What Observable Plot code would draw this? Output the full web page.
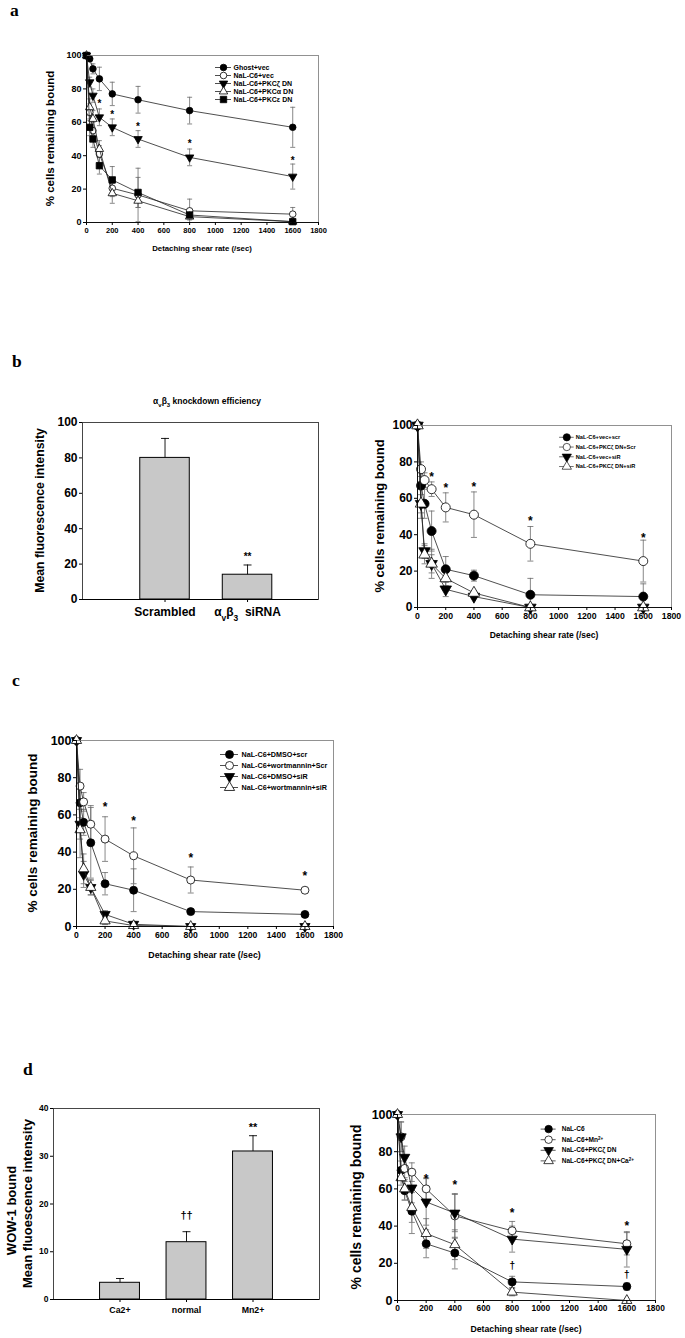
<!DOCTYPE html>
<html>
<head>
<meta charset="utf-8">
<script src="https://cdn.jsdelivr.net/npm/d3@7"></script>
<script src="https://cdn.jsdelivr.net/npm/@observablehq/plot@0.6"></script>
<style>
html,body{margin:0;padding:0;background:#fff;}
#root{position:relative;width:685px;height:1338px;overflow:hidden;background:#fff;}
.pl{position:absolute;}
.pl svg{overflow:visible;}
#ann{position:absolute;left:0;top:0;overflow:visible;}
</style>
</head>
<body>
<div id="root"></div>
<script>
// ---------------- data ----------------
const shear = [0, 25, 50, 100, 200, 400, 800, 1600];
const shearTicks = [0, 200, 400, 600, 800, 1000, 1200, 1400, 1600, 1800];
const pctTicks = [0, 20, 40, 60, 80, 100];
const yTitle = "% cells remaining bound";
const xTitle = "Detaching shear rate (/sec)";

// (a)
const aNames = ["Ghost+vec", "NaL-C6+vec", "NaL-C6+PKCζ DN", "NaL-C6+PKCα DN", "NaL-C6+PKCε DN"];
const aGhost = [100, 98, 92, 86, 77, 73.5, 67, 57];
const aGhostErr = [0, 1.5, 3, 7, 7, 8, 8, 12];
const aVec = [100, 66, 55, 41, 20.5, 16.5, 7, 5];
const aVecErr = [0, 5, 5, 5, 5, 16, 7, 4];
const aZeta = [100, 84, 76, 63, 57, 50, 39, 27.5];
const aZetaErr = [0, 3, 4, 5, 5, 5, 5, 7.5];
const aAlpha = [100, 69, 62, 44, 17.5, 13, 3.5, 0.5];
const aAlphaErr = [0, 5, 5, 5, 6, 4, 2, 1];
const aEps = [100, 57, 50, 34, 25.5, 18, 4.5, 0.5];
const aEpsErr = [0, 5, 5, 5, 8, 9, 2, 1];
const aStarX = [100, 200, 400, 800, 1600];
const aStarY = [73, 66, 59, 49, 39];

// (b) left: knockdown bars
const bTitle = "α_{v}β_{3} knockdown efficiency";
const bCats = ["Scrambled", "α_{v}β_{3}  siRNA"];
const bVals = [80, 14];
const bErrs = [11, 5.5];
const bSig = ["", "**"];
const bSigY = [null, 26];

// (b) right
const bNames = ["NaL-C6+vec+scr", "NaL-C6+PKCζ DN+Scr", "NaL-C6+vec+siR", "NaL-C6+PKCζ DN+siR"];
const bVecScr = [100, 67, 57, 42, 21, 17.5, 7, 6];
const bVecScrErr = [0, 10, 8, 11, 7, 3, 9, 7];
const bDnScr = [100, 76, 70, 65, 55, 51, 35, 25.5];
const bDnScrErr = [0, 4, 4, 4, 8, 12.5, 9.5, 11.5];
const bVecSiR = [100, 57, 31, 24, 10, 6, 0, 0];
const bVecSiRErr = [0, 8, 4, 5, 4, 1, 0, 0];
const bDnSiR = [100, 57, 29, 24, 16, 8, 0, 0];
const bDnSiRErr = [0, 5, 5, 8, 4, 1, 0, 0];
const bStarX = [100, 200, 400, 800, 1600];
const bStarY = [73, 67, 68, 49, 40];

// (c)
const cNames = ["NaL-C6+DMSO+scr", "NaL-C6+wortmannin+Scr", "NaL-C6+DMSO+siR", "NaL-C6+wortmannin+siR"];
const cDmsoScr = [100, 66.5, 56, 45, 23, 19.5, 8, 6.5];
const cDmsoScrErr = [0, 8, 7, 19, 6, 11.5, 1, 1];
const cWortScr = [100, 75.5, 67, 55, 47, 38, 25, 19.5];
const cWortScrErr = [0, 9, 5, 10, 12, 15, 7, 1];
const cDmsoSiR = [100, 55, 28, 21, 6.5, 1.2, 0, 0];
const cDmsoSiRErr = [0, 8, 7, 4, 2, 1, 0, 0];
const cWortSiR = [100, 52, 31, 21, 3, 0.5, 0, 0];
const cWortSiRErr = [0, 15, 8, 4, 2, 0.5, 0, 0];
const cStarX = [200, 400, 800, 1600];
const cStarY = [66, 58, 38.5, 28.7];

// (d) left: WOW-1 bars
const dLeftTitle = ["WOW-1 bound", "Mean fluoescence intensity"];
const dCats = ["Ca2+", "normal", "Mn2+"];
const dVals = [3.5, 12, 31];
const dErrs = [0.9, 2.2, 3.3];
const dSig = ["", "††", "**"];
const dSigY = [null, 18.3, 36.6];

// (d) right
const dNames = ["NaL-C6", "NaL-C6+Mn^{2+}", "NaL-C6+PKCζ DN", "NaL-C6+PKCζ DN+Ca^{2+}"];
const dNaL = [100, 70, 59, 48, 30.5, 25.5, 10, 7.5];
const dNaLErr = [0, 5, 5, 12, 7.5, 8.5, 3, 2];
const dMn = [100, 88, 71, 69, 60, 45.5, 37.5, 30.5];
const dMnErr = [0, 8, 6, 5, 6, 12, 5, 6];
const dZeta = [100, 88, 77, 60.5, 53, 47, 33, 27.5];
const dZetaErr = [0, 8, 6, 8, 12.5, 10, 7, 9.5];
const dZetaCa = [100, 66, 60, 50, 36, 30, 4.5, 0];
const dZetaCaErr = [0, 4, 6, 8, 8, 8, 2, 0];
const dStarX = [200, 400, 800, 1600];
const dStarY = [67, 63.5, 48.5, 41.5];
const dDagX = [800, 1600];
const dDagY = [20, 15];

// ---------------- helpers ----------------
const FONT = '"Liberation Sans", Arial, Helvetica, sans-serif';
const root = document.getElementById("root");
const ST = {
  fc: {symbol: "circle", fill: "black"},
  oc: {symbol: "circle", fill: "white"},
  dt: {symbol: "triangle", fill: "black", rotate: 180, k: 0.95},
  ut: {symbol: "triangle", fill: "white", k: 0.95},
  sq: {symbol: "square", fill: "black", k: 1.1}
};
const capSym = {draw(ctx, size) { const w = Math.sqrt(size / Math.PI); ctx.moveTo(-w, 0); ctx.lineTo(w, 0); }};
function dotOpts(st, r) {
  const o = {symbol: st.symbol, fill: st.fill, stroke: "black", strokeWidth: 0.8, r: r * (st.k || 1)};
  if (st.rotate) o.rotate = st.rotate;
  return o;
}
function place(el, left, top) {
  const d = document.createElement("div");
  d.className = "pl"; d.style.left = left + "px"; d.style.top = top + "px";
  d.appendChild(el); root.appendChild(d);
}
const titles = []; // axis titles, drawn in the overlay at page positions

function linePanel(c) {
  const ml = 60, mt = 12, mr = 14, mb = 40;
  const marks = [];
  c.series.forEach(s => {
    const rows = shear.map((x, i) => ({x, y: s.v[i], e: s.e[i]})).filter(d => d.e > 0);
    const caps = rows.flatMap(d => [{x: d.x, y: Math.max(0, d.y - d.e)}, {x: d.x, y: d.y + d.e}]);
    marks.push(Plot.ruleX(rows, {x: "x", y1: d => Math.max(0, d.y - d.e), y2: d => d.y + d.e, stroke: "#6a6a6a", strokeWidth: 0.8}));
    marks.push(Plot.dot(caps, {x: "x", y: "y", symbol: capSym, r: c.cap, stroke: "#6a6a6a", fill: "none", strokeWidth: 0.8}));
  });
  c.series.forEach(s => {
    const rows = shear.map((x, i) => ({x, y: s.v[i]}));
    marks.push(Plot.line(rows, {x: "x", y: "y", stroke: "#222", strokeWidth: 0.8}));
    marks.push(Plot.dot(rows, {x: "x", y: "y", ...dotOpts(s.st, c.r)}));
  });
  marks.push(Plot.frame({stroke: "#777", strokeWidth: 0.8}));
  marks.push(Plot.ruleY([0], {stroke: "black", strokeWidth: 0.9}));
  marks.push(Plot.ruleX([0], {stroke: "black", strokeWidth: 0.9}));
  (c.notes || []).forEach(n => {
    const rows = n.x.map((x, i) => ({x, y: n.y[i]}));
    marks.push(Plot.text(rows, {x: "x", y: "y", text: () => n.t, fontSize: n.fs, fontWeight: "bold", fill: "black", dy: n.dy || 0}));
  });
  marks.push(Plot.axisY({ticks: pctTicks, tickFormat: d => String(d), tickSize: 3, tickPadding: 2, fontSize: c.yfs, fontWeight: "bold", label: null}));
  marks.push(Plot.axisX({ticks: shearTicks, tickFormat: d => String(d), tickSize: 3, tickPadding: 2, fontSize: c.xfs, fontWeight: "bold", label: null}));
  const svg = Plot.plot({
    width: ml + c.fw + mr, height: mt + c.fh + mb,
    marginLeft: ml, marginTop: mt, marginRight: mr, marginBottom: mb,
    x: {domain: [0, 1800]}, y: {domain: [0, 100]},
    style: {fontFamily: FONT, background: "transparent", overflow: "visible", color: "black"},
    marks
  });
  place(svg, c.L - ml, c.T - mt);
  titles.push({t: yTitle, x: c.L + c.ylx, y: c.T + c.fh / 2, fs: c.ylfs, rot: true});
  titles.push({t: xTitle, x: c.L + c.fw / 2, y: c.T + c.fh + c.xly, fs: c.xlfs, rot: false});
}

function barPanel(c) {
  const ml = 60, mt = 12, mr = 14, mb = 40;
  const rows = c.cats.map((k, i) => ({k, i: i + 1, v: c.vals[i], e: c.errs[i], s: c.sig[i], sy: c.sigY[i]}));
  const marks = [
    Plot.rectY(rows, {x1: d => d.i - c.bw / 2, x2: d => d.i + c.bw / 2, y: "v", fill: "#c8c8c8", stroke: "black", strokeWidth: 1}),
    Plot.ruleX(rows, {x: "i", y1: "v", y2: d => d.v + d.e, stroke: "black", strokeWidth: 0.9}),
    Plot.dot(rows, {x: "i", y: d => d.v + d.e, symbol: capSym, r: c.cap, stroke: "black", fill: "none", strokeWidth: 0.9}),
    Plot.frame({stroke: "#333", strokeWidth: 0.9}),
    Plot.ruleY([0], {stroke: "black", strokeWidth: 1}),
    Plot.text(rows.filter(d => d.s), {x: "i", y: "sy", text: "s", fontSize: c.sfs, fontWeight: "bold", fill: "black", dy: c.sdy}),
    Plot.axisY({ticks: c.yticks, tickFormat: d => String(d), tickSize: 3, tickPadding: 2, fontSize: c.yfs, fontWeight: "bold", label: null}),
    Plot.axisX({ticks: rows.map(d => d.i), tickFormat: i => c.cats[i - 1], tickSize: 3, tickPadding: c.xpad, fontSize: c.xfs, fontWeight: "bold", label: null})
  ];
  const svg = Plot.plot({
    width: ml + c.fw + mr, height: mt + c.fh + mb,
    marginLeft: ml, marginTop: mt, marginRight: mr, marginBottom: mb,
    x: {domain: c.xdom}, y: {domain: c.ydom},
    style: {fontFamily: FONT, background: "transparent", overflow: "visible", color: "black"},
    marks
  });
  place(svg, c.L - ml, c.T - mt);
  c.ylabels.forEach(l => titles.push({t: l.t, x: c.L + l.dx, y: c.T + c.fh / 2 + (l.dy || 0), fs: c.ylfs, rot: true}));
}

function legendPanel(c) {
  const pad = 6;
  const rows = c.names.map((n, i) => ({n, i, st: c.styles[i], yy: pad + i * c.sp}));
  const marks = [Plot.ruleY(rows, {y: "yy", x1: c.sx - c.lw, x2: c.sx + c.lw, stroke: "#222", strokeWidth: 0.8})];
  rows.forEach(d => marks.push(Plot.dot([d], {x: c.sx, y: "yy", ...dotOpts(d.st, c.r)})));
  marks.push(Plot.text(rows, {x: c.tx, y: "yy", text: "n", textAnchor: "start", fontSize: c.fs, fontWeight: "bold", fill: "black"}));
  const svg = Plot.plot({
    width: 160, height: pad * 2 + c.sp * (rows.length - 1), margin: 0,
    x: {type: "identity", axis: null}, y: {type: "identity", axis: null},
    style: {fontFamily: FONT, background: "transparent", overflow: "visible", color: "black"},
    marks
  });
  place(svg, c.left, c.top - pad);
}

// ---------------- panels ----------------
linePanel({L: 86, T: 55, fw: 232, fh: 167, r: 3.3, cap: 2.5, yfs: 9, xfs: 7.5, ylfs: 11.5, xlfs: 7.8, ylx: -36, xly: 26,
  series: [
    {v: aGhost, e: aGhostErr, st: ST.fc},
    {v: aVec, e: aVecErr, st: ST.oc},
    {v: aZeta, e: aZetaErr, st: ST.dt},
    {v: aAlpha, e: aAlphaErr, st: ST.ut},
    {v: aEps, e: aEpsErr, st: ST.sq}
  ],
  notes: [{x: aStarX, y: aStarY, t: "*", fs: 10, dy: 3}]
});
legendPanel({left: 210, top: 67, sp: 8, sx: 13, lw: 8, tx: 23, r: 3.3, fs: 7, names: aNames, styles: [ST.fc, ST.oc, ST.dt, ST.ut, ST.sq]});

barPanel({L: 82, T: 422, fw: 236, fh: 177, xdom: [0, 2.86], ydom: [0, 100], yticks: pctTicks, bw: 0.6, cap: 4,
  cats: bCats, vals: bVals, errs: bErrs, sig: bSig, sigY: bSigY, sfs: 10, sdy: 3,
  yfs: 12, xfs: 12, xpad: 5, ylfs: 12.3, ylabels: [{t: "Mean fluorescence intensity", dx: -42}]});

linePanel({L: 417, T: 425, fw: 254, fh: 182, r: 4.5, cap: 3, yfs: 12, xfs: 8.7, ylfs: 13, xlfs: 8.5, ylx: -38, xly: 28,
  series: [
    {v: bVecScr, e: bVecScrErr, st: ST.fc},
    {v: bDnScr, e: bDnScrErr, st: ST.oc},
    {v: bVecSiR, e: bVecSiRErr, st: ST.dt},
    {v: bDnSiR, e: bDnSiRErr, st: ST.ut}
  ],
  notes: [{x: bStarX, y: bStarY, t: "*", fs: 12, dy: 3}]
});
legendPanel({left: 555, top: 438, sp: 12, sx: 14, lw: 9, tx: 25, r: 4.5, fs: 7, names: bNames, styles: [ST.fc, ST.oc, ST.dt, ST.ut]});

linePanel({L: 76, T: 740, fw: 257, fh: 186, r: 4, cap: 3, yfs: 12.5, xfs: 8.6, ylfs: 13.5, xlfs: 8.8, ylx: -44, xly: 29,
  series: [
    {v: cDmsoScr, e: cDmsoScrErr, st: ST.fc},
    {v: cWortScr, e: cWortScrErr, st: ST.oc},
    {v: cDmsoSiR, e: cDmsoSiRErr, st: ST.dt},
    {v: cWortSiR, e: cWortSiRErr, st: ST.ut}
  ],
  notes: [{x: cStarX, y: cStarY, t: "*", fs: 12, dy: 3}]
});
legendPanel({left: 215, top: 754, sp: 11, sx: 14, lw: 9, tx: 26, r: 4, fs: 7.2, names: cNames, styles: [ST.fc, ST.oc, ST.dt, ST.ut]});

barPanel({L: 53, T: 1108, fw: 266, fh: 191, xdom: [0, 4], ydom: [0, 40], yticks: [0, 10, 20, 30, 40], bw: 0.6, cap: 4,
  cats: dCats, vals: dVals, errs: dErrs, sig: dSig, sigY: dSigY, sfs: 11, sdy: 3,
  yfs: 8.5, xfs: 8.8, xpad: 4, ylfs: 13,
  ylabels: [{t: dLeftTitle[0], dx: -42, dy: 7}, {t: dLeftTitle[1], dx: -26}]});

linePanel({L: 397, T: 1114, fw: 258, fh: 186, r: 4, cap: 3, yfs: 12.5, xfs: 8.4, ylfs: 14, xlfs: 8.7, ylx: -41, xly: 29,
  series: [
    {v: dNaL, e: dNaLErr, st: ST.fc},
    {v: dMn, e: dMnErr, st: ST.oc},
    {v: dZeta, e: dZetaErr, st: ST.dt},
    {v: dZetaCa, e: dZetaCaErr, st: ST.ut}
  ],
  notes: [{x: dStarX, y: dStarY, t: "*", fs: 12, dy: 3}, {x: dDagX, y: dDagY, t: "†", fs: 10, dy: 2}]
});
legendPanel({left: 535, top: 1129, sp: 11.3, sx: 14, lw: 8, tx: 28, r: 4, fs: 7, names: dNames, styles: [ST.fc, ST.oc, ST.dt, ST.ut]});

// ---------------- overlay: panel letters, titles, axis titles ----------------
const ann = d3.select(root).append("svg").attr("id", "ann").attr("width", 685).attr("height", 1338);
const letters = [{t: "a", x: 10, y: 16}, {t: "b", x: 12, y: 367}, {t: "c", x: 12, y: 686}, {t: "d", x: 23, y: 1075}];
ann.selectAll("text.l").data(letters).join("text").attr("class", "l")
  .attr("x", d => d.x).attr("y", d => d.y).text(d => d.t)
  .attr("font-family", '"Liberation Serif", "Times New Roman", serif').attr("font-weight", "bold").attr("font-size", 17.5);
ann.append("text").attr("x", 207).attr("y", 404).attr("text-anchor", "middle")
  .attr("font-family", FONT).attr("font-weight", "bold").attr("font-size", 8.5)
  .text(bTitle);
ann.selectAll("text.t").data(titles).join("text").attr("class", "t")
  .attr("transform", d => `translate(${d.x},${d.y})` + (d.rot ? " rotate(-90)" : ""))
  .attr("text-anchor", "middle").attr("dominant-baseline", "central")
  .attr("font-family", FONT).attr("font-weight", "bold").attr("font-size", d => d.fs)
  .text(d => d.t);

// ---------------- rich text (sub/superscripts) ----------------
function esc(s) { return s.replace(/&/g, "&amp;").replace(/</g, "&lt;"); }
root.querySelectorAll("text, tspan").forEach(t => {
  if (t.children.length) return;
  const s = t.textContent;
  if (!/[_^]\{/.test(s)) return;
  const re = /([_^])\{([^}]*)\}/g;
  let html = "", last = 0, m;
  while ((m = re.exec(s))) {
    html += esc(s.slice(last, m.index));
    html += `<tspan baseline-shift="${m[1] === "_" ? "sub" : "super"}" font-size="70%">${esc(m[2])}</tspan>`;
    last = re.lastIndex;
  }
  html += esc(s.slice(last));
  t.innerHTML = html;
});
</script>
</body>
</html>
